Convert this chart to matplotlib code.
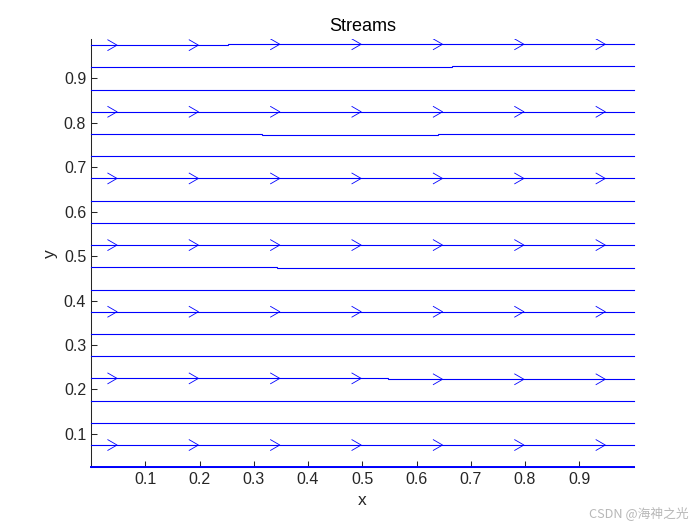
import matplotlib
matplotlib.use("Agg")
import matplotlib.pyplot as plt
import numpy as np

# ── Data ──────────────────────────────────────────────────────────────────────
# streamline start heights (uniform flow u=1, v=0)
stream_y = [0.025, 0.075, 0.125, 0.175, 0.225, 0.275, 0.325, 0.375, 0.425, 0.475,
            0.525, 0.575, 0.625, 0.675, 0.725, 0.775, 0.825, 0.875, 0.925, 0.975]
# lines that carry arrows, and x-position of arrow tips
arrow_y = [0.075, 0.225, 0.375, 0.525, 0.675, 0.825, 0.975]
arrow_x = [0.048, 0.198, 0.348, 0.498, 0.648, 0.798, 0.948]
# tiny numerical jogs seen on some streamlines: (line y, x of jog, dy)
jogs = [
    (0.975, 0.252, 0.002),
    (0.925, 0.665, 0.002),
    (0.775, 0.315, -0.002),
    (0.775, 0.639, 0.002),
    (0.475, 0.343, -0.002),
    (0.225, 0.547, -0.002),
    (0.175, 0.313, -0.002),
]
x_start, x_end = 0.0, 1.0
ticks = [0.1, 0.2, 0.3, 0.4, 0.5, 0.6, 0.7, 0.8, 0.9]

# ── Plot ──────────────────────────────────────────────────────────────────────
plt.rcParams["font.family"] = ["Liberation Sans", "DejaVu Sans"]
fig = plt.figure(figsize=(7, 5.25), dpi=100)
ax = fig.add_axes([0.13, 0.11, 0.775, 0.815])

blue = "#0000ff"
lw = 0.8
for y0 in stream_y:
    xs, ys = [x_start], [y0]
    cur = y0
    for (yl, xj, dy) in sorted([j for j in jogs if j[0] == y0], key=lambda j: j[1]):
        xs += [xj, xj]
        ys += [cur, cur + dy]
        cur += dy
    xs.append(x_end)
    ys.append(cur)
    # bottom streamline sits on the axis line and shows thicker
    ax.plot(xs, ys, color=blue, lw=1.4 if y0 == stream_y[0] else lw,
            solid_joinstyle="miter", clip_on=False, zorder=3)

# open chevron arrows
adx, ady = 0.017, 0.012
for y0 in arrow_y:
    for xt in arrow_x:
        yt = y0
        for (yl, xj, dy) in jogs:
            if yl == y0 and xt > xj:
                yt += dy
        ax.plot([xt - adx, xt, xt - adx], [yt + ady, yt, yt - ady],
                color=blue, lw=0.6, zorder=3)

ax.set_xlim(0.0, 1.0)
ax.set_ylim(0.025, 0.988)
ax.set_xticks(ticks)
ax.set_yticks(ticks)
ax.set_xticklabels([f"{t:g}" for t in ticks])
ax.set_yticklabels([f"{t:g}" for t in ticks])

axcol = "#262626"
for side in ["top", "right"]:
    ax.spines[side].set_visible(False)
for side in ["left", "bottom"]:
    ax.spines[side].set_color(axcol)
    ax.spines[side].set_linewidth(0.75)
ax.spines["bottom"].set_zorder(1)
ax.tick_params(direction="in", length=4, width=0.75, colors=axcol, labelsize=11.5)

ax.set_title("Streams", fontsize=13, color="black", pad=6)
ax.set_xlabel("x", fontsize=12.5, color=axcol)
ax.set_ylabel("y", fontsize=12.5, color=axcol)

fig.text(0.984, 0.01, "CSDN @海神之光", ha="right", va="bottom", fontsize=9.2,
         color="#b8b8b8", family=["Noto Sans CJK SC", "DejaVu Sans"])

fig.savefig("out.png", dpi=100, facecolor="white")
